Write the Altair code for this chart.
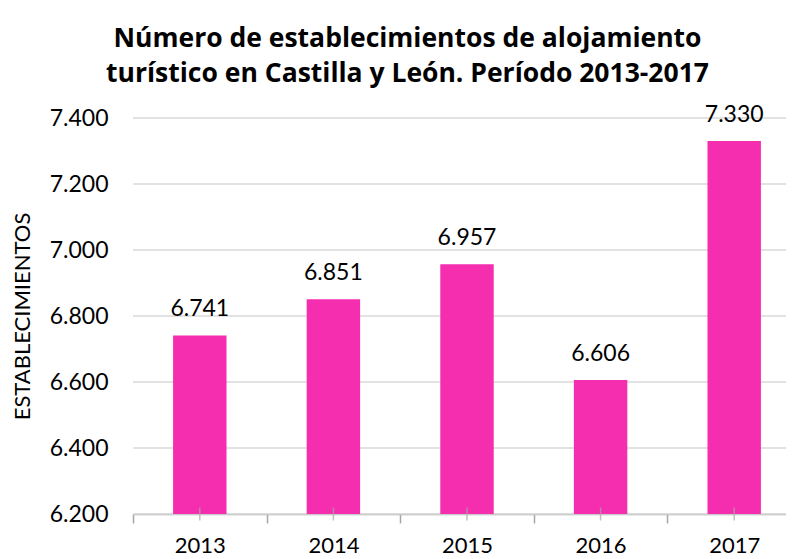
import altair as alt
import pandas as pd

years = ["2013", "2014", "2015", "2016", "2017"]
values = [6741, 6851, 6957, 6606, 7330]
y_ticks = [6200, 6400, 6600, 6800, 7000, 7200, 7400]
y_min, y_max = 6200, 7400
title_lines = ["Número de establecimientos de alojamiento",
               "turístico en Castilla y León. Período 2013-2017"]

df = pd.DataFrame({"year": years, "value": values})
grid_df = pd.DataFrame({"value": y_ticks})

FONT = "Lato"
TITLE_FONT = "Open Sans"
GRID = "#D9D9D9"
AXIS = "#A6A6A6"
BAR = "#F52EB0"

RANGE = 668            # full category span (the right edge is cut by the picture)
STEP = RANGE / len(years)

x = alt.X(
    "year:N", sort=years, title=None,
    scale=alt.Scale(range=[0, RANGE], paddingInner=0.6, paddingOuter=0.3),
    axis=alt.Axis(labelAngle=0, labelFont=FONT, labelFontSize=22, labelColor="#000",
                  labelPadding=12, tickSize=9, tickOffset=-STEP / 2, labelOffset=STEP / 2,
                  tickColor=AXIS, tickWidth=1.5, domainColor=AXIS, domainWidth=1.5),
)
y = alt.Y(
    "value:Q", title="ESTABLECIMIENTOS",
    scale=alt.Scale(domain=[y_min, y_max], zero=False, nice=False),
    axis=alt.Axis(values=y_ticks, offset=0,
                  labelExpr="replace(format(datum.value, ',d'), ',', '.')",
                  labelFont=FONT, labelFontSize=23, labelColor="#000", labelPadding=25,
                  grid=False, domain=False, ticks=False,
                  titleFont=FONT, titleFontSize=22, titleFontWeight="normal",
                  titleColor="#000", titlePadding=15),
)

grid = alt.Chart(grid_df).mark_rule(color=GRID, strokeWidth=1.5).encode(
    y=alt.Y("value:Q")
)

bars = alt.Chart(df).mark_bar(color=BAR).encode(x=x, y=y, y2=alt.datum(y_min))

center_ticks = alt.Chart(df).mark_tick(
    color=AXIS, thickness=1.5, size=13, orient="vertical"
).encode(x=alt.X("year:N", sort=years), y=alt.datum(y_min))

text = alt.Chart(df).transform_calculate(
    label="replace(format(datum.value, ',d'), ',', '.')"
).mark_text(dy=-19, baseline="alphabetic", font=FONT, fontSize=23, color="#000").encode(
    x=alt.X("year:N", sort=years), y=alt.Y("value:Q"), text="label:N"
)

chart = alt.layer(grid, bars, center_ticks, text).properties(
    width=653, height=396,
    autosize=alt.AutoSizeParams(type="none"),
    padding={"left": 125, "top": 110, "right": 0, "bottom": 45},
    title=alt.TitleParams(text=title_lines, font=TITLE_FONT, fontSize=26.5, fontWeight="bold",
                          anchor="middle", frame="group", dx=-52, offset=17,
                          lineHeight=35, color="#000"),
).configure_view(stroke=None)

chart.save("out.html", embed_options={"renderer": "svg", "actions": False})
